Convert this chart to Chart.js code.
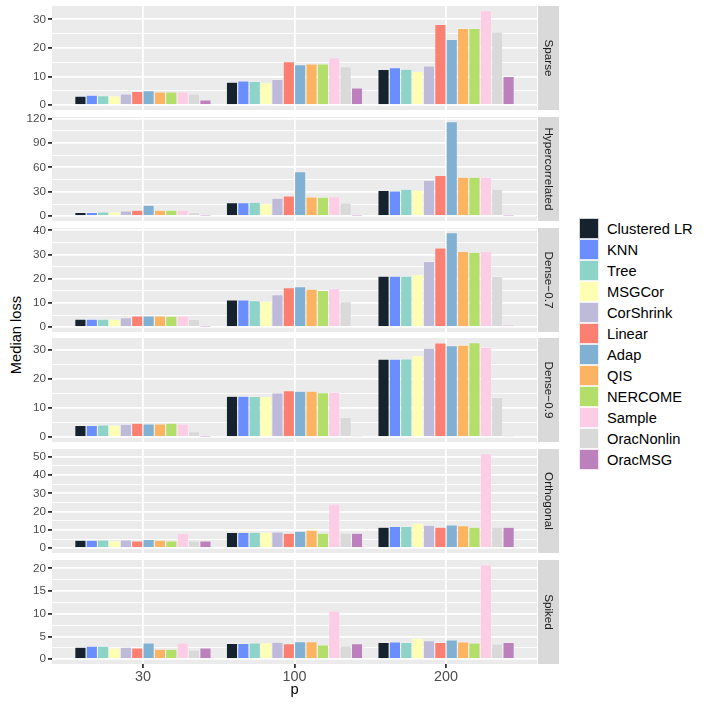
<!DOCTYPE html>
<html>
<head>
<meta charset="utf-8">
<script src="https://cdn.jsdelivr.net/npm/chart.js@4"></script>
<style>
  body { margin: 0; background: #fff; }
  #wrap { position: relative; width: 706px; height: 706px; overflow: hidden; font-family: "Liberation Sans", Arial, sans-serif; }
  canvas { position: absolute; left: 0; }
  #ytitle { position: absolute; left: 16px; top: 335px; transform: translate(-50%, -50%) rotate(-90deg); font-size: 14.7px; white-space: nowrap; color: #000; }
  #legend { position: absolute; left: 579px; top: 218px; }
  .row { height: 21px; display: flex; align-items: center; font-size: 14.7px; color: #000; }
  .key { width: 20px; height: 21px; box-sizing: border-box; border: 1px solid rgba(255,255,255,0.8); margin-right: 8px; }
</style>
</head>
<body>
<div id="wrap">
  <div id="ytitle">Median loss</div>
  <div id="legend"></div>
</div>
<script>
const methods = ["Clustered LR", "KNN", "Tree", "MSGCor", "CorShrink", "Linear", "Adap", "QIS", "NERCOME", "Sample", "OracNonlin", "OracMSG"];
const colors = ["#16232F", "#6A8DFF", "#8DD3C7", "#FFFFB3", "#BEBADA", "#FB8072", "#80B1D3", "#FDB462", "#B3DE69", "#FCCDE5", "#D9D9D9", "#BC80BD"];
const pLabels = ["30", "100", "200"];
const panelNames = ["Sparse", "Hypercorrelated", "Dense\u22120.7", "Dense\u22120.9", "Orthogonal", "Spiked"];
const majorSteps = [10, 30, 10, 10, 10, 5];

// one row per method, values for p = 30, 100, 200
const sparse = [
  [3.2, 8.1, 12.5], [3.5, 8.5, 13.1], [3.4, 8.3, 12.6], [3.3, 7.8, 11.8],
  [4.0, 9.0, 13.7], [4.8, 15.2, 28.2], [5.1, 14.2, 23.0], [4.7, 14.4, 26.8],
  [4.7, 14.4, 26.8], [4.7, 16.6, 33.0], [4.0, 13.5, 25.6], [1.9, 6.1, 10.1]
];
const hypercorrelated = [
  [4.9, 16.8, 31.6], [4.9, 16.8, 31.1], [5.3, 17.2, 33.2], [5.3, 15.6, 32.0],
  [6.5, 22.1, 44.3], [7.4, 25.0, 50.0], [13.5, 54.9, 116], [7.4, 23.8, 48.0],
  [7.4, 23.4, 48.0], [7.4, 24.2, 48.0], [4.9, 16.4, 33.2], [0.2, 0.2, 0.2]
];
const dense07 = [
  [3.4, 11.3, 21.1], [3.4, 11.3, 21.1], [3.4, 11.0, 21.1], [3.3, 10.8, 21.7],
  [4.0, 13.5, 27.2], [4.7, 16.3, 32.7], [4.7, 16.8, 39.0], [4.7, 15.7, 31.3],
  [4.6, 15.2, 31.0], [4.7, 15.9, 31.3], [3.2, 10.6, 21.0], [0.1, 0.4, 0.9]
];
const dense09 = [
  [4.1, 14.1, 26.8], [4.1, 14.1, 26.8], [4.2, 14.0, 26.9], [4.1, 14.0, 28.0],
  [4.5, 15.2, 30.5], [4.8, 16.0, 32.3], [4.6, 15.8, 31.4], [4.6, 15.8, 31.6],
  [4.8, 15.3, 32.4], [4.6, 15.5, 30.9], [1.9, 6.8, 13.7], [0.1, 0.15, 0.15]
];
const orthogonal = [
  [4.4, 8.6, 11.5], [4.4, 8.6, 11.9], [4.6, 8.8, 11.9], [4.0, 8.8, 13.7],
  [4.6, 9.0, 12.6], [4.0, 8.2, 11.5], [4.9, 9.3, 12.8], [4.4, 9.9, 12.3],
  [4.0, 8.2, 11.5], [8.1, 24.2, 51.6], [4.0, 8.2, 11.5], [4.0, 8.2, 11.5]
];
const spiked = [
  [2.65, 3.5, 3.7], [2.9, 3.5, 3.8], [2.9, 3.6, 3.7], [2.5, 3.6, 4.6],
  [2.65, 3.75, 4.1], [2.5, 3.45, 3.7], [3.6, 3.9, 4.25], [2.2, 3.9, 3.8],
  [2.2, 3.15, 3.6], [3.6, 10.65, 20.8], [2.05, 2.95, 3.4], [2.5, 3.45, 3.7]
];
const panels = [sparse, hypercorrelated, dense07, dense09, orthogonal, spiked];

const FONT = "'Liberation Sans', Arial, sans-serif";
const panelTops = [6, 117, 228, 338, 449, 560];
const panelH = 104;
const xAxisH = 42;

// grey panel background + facet strip on the right
const stripPlugin = {
  id: "strip",
  beforeDraw(chart) {
    const a = chart.chartArea, c = chart.ctx;
    c.save();
    c.fillStyle = "#EBEBEB";
    c.fillRect(a.left, a.top, a.right - a.left, a.bottom - a.top);
    c.restore();
  },
  afterDraw(chart, args, opts) {
    const a = chart.chartArea, c = chart.ctx;
    c.save();
    c.fillStyle = "#D9D9D9";
    c.fillRect(a.right + 1, a.top, 21, a.bottom - a.top);
    c.translate(a.right + 11.5, (a.top + a.bottom) / 2);
    c.rotate(Math.PI / 2);
    c.fillStyle = "#1A1A1A";
    c.font = "11.7px " + FONT;
    c.textAlign = "center";
    c.textBaseline = "middle";
    c.fillText(opts.text, 0, 0);
    c.restore();
  }
};

const wrap = document.getElementById("wrap");

panels.forEach((panel, i) => {
  const last = i === panels.length - 1;
  const step = majorSteps[i];
  const top = Math.max(...panel.flat());
  const ymin = -0.05 * top, ymax = 1.05 * top;
  const tickVals = [];
  for (let v = 0; v <= ymax + 1e-9; v += step / 2) tickVals.push(v);
  const isMajor = (v) => Math.abs(v / step - Math.round(v / step)) < 1e-6;

  const cv = document.createElement("canvas");
  cv.width = 561;
  cv.height = last ? 8 + panelH + xAxisH : panelH + 16;
  cv.style.top = (panelTops[i] - 8) + "px";
  wrap.appendChild(cv);

  new Chart(cv.getContext("2d"), {
    type: "bar",
    data: {
      datasets: methods.map((m, j) => ({
        label: m,
        data: panel[j].map((v, k) => ({ x: k + 1, y: v })),
        backgroundColor: colors[j],
        borderColor: "rgba(255,255,255,0.5)",
        borderWidth: 0.6,
        categoryPercentage: 0.9,
        barPercentage: 1
      }))
    },
    options: {
      responsive: false,
      animation: false,
      layout: { padding: { top: 8, bottom: last ? 0 : 8, left: 0, right: 24 } },
      plugins: {
        legend: { display: false },
        tooltip: { enabled: false },
        strip: { text: panelNames[i] }
      },
      scales: {
        x: {
          type: "linear",
          min: 0.4,
          max: 3.6,
          offset: false,
          bounds: "data",
          afterBuildTicks: (s) => { s.ticks = [1, 2, 3].map((v) => ({ value: v })); },
          afterFit: (s) => { s.height = last ? xAxisH : 0; },
          border: { display: false },
          grid: { color: "#fff", lineWidth: 1.8, offset: false, drawTicks: last, tickColor: "#333", tickLength: 4, tickWidth: 1.8 },
          ticks: {
            display: last, autoSkip: false, maxRotation: 0, padding: 0,
            color: "#4D4D4D", font: { family: FONT, size: 14.4 },
            callback: (v, idx) => pLabels[idx]
          },
          title: { display: last, text: "p", color: "#000", font: { family: FONT, size: 14.7 }, padding: { top: 0, bottom: 7 } }
        },
        y: {
          min: ymin,
          max: ymax,
          bounds: "data",
          afterBuildTicks: (s) => { s.ticks = tickVals.map((v) => ({ value: v })); },
          afterFit: (s) => { s.width = 52; s.paddingTop = 0; s.paddingBottom = 0; },
          border: { display: false },
          grid: {
            color: "#fff",
            lineWidth: (c) => (c.tick && isMajor(c.tick.value) ? 1.8 : 0.9),
            tickColor: (c) => (c.tick && isMajor(c.tick.value) ? "#333" : "rgba(0,0,0,0)"),
            tickLength: 4,
            tickWidth: 1.8
          },
          ticks: {
            autoSkip: false, padding: 2,
            color: "#4D4D4D", font: { family: FONT, size: 11.7 },
            callback: (v) => (isMajor(v) ? String(Math.round(v)) : "")
          }
        }
      }
    },
    plugins: [stripPlugin]
  });
});

const legend = document.getElementById("legend");
methods.forEach((m, j) => {
  const row = document.createElement("div");
  row.className = "row";
  const key = document.createElement("div");
  key.className = "key";
  key.style.background = colors[j];
  const label = document.createElement("span");
  label.textContent = m;
  row.appendChild(key);
  row.appendChild(label);
  legend.appendChild(row);
});
</script>
</body>
</html>
